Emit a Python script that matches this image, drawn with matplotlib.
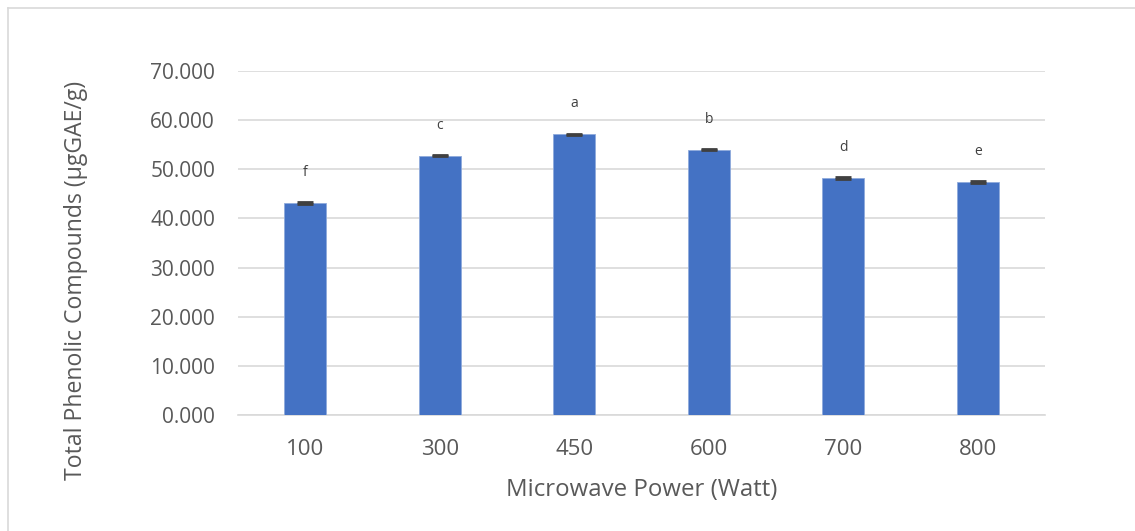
import matplotlib
matplotlib.use('Agg')
import matplotlib.pyplot as plt
from matplotlib.lines import Line2D

# data
power = ['100', '300', '450', '600', '700', '800']
tpc = [43.1, 52.8, 57.1, 54.0, 48.2, 47.4]
tpc_err = [0.15, 0.15, 0.15, 0.15, 0.15, 0.15]
letters = ['f', 'c', 'a', 'b', 'd', 'e']

plt.rcParams['font.family'] = ['Open Sans', 'DejaVu Sans']

fig = plt.figure(figsize=(11.35, 5.31), dpi=100)
ax = fig.add_axes([238 / 1135, 116 / 531, 807 / 1135, 344 / 531])

x = range(len(power))
ax.bar(x, tpc, width=0.31, color='#4472C4', edgecolor='#8FAADC', linewidth=0.6, zorder=3)
ax.errorbar(x, tpc, yerr=tpc_err, fmt='none', ecolor='#404040',
            elinewidth=1.2, capsize=6, capthick=2, zorder=4)

for i, (v, lab) in enumerate(zip(tpc, letters)):
    ax.text(i, v + 6.2, lab, ha='center', va='center', fontsize=10, color='#404040')

ax.set_xlim(-0.5, len(power) - 0.5)
ax.set_ylim(0, 70)
ax.set_yticks(range(0, 71, 10))
ax.set_yticklabels(['%.3f' % t for t in range(0, 71, 10)])
ax.set_xticks(list(x))
ax.set_xticklabels(power)

ax.grid(axis='y', color='#D9D9D9', linewidth=1.2, zorder=0)
for s in ['top', 'right', 'left']:
    ax.spines[s].set_visible(False)
ax.spines['bottom'].set_color('#D9D9D9')
ax.spines['bottom'].set_linewidth(1.2)
ax.tick_params(axis='both', length=0, colors='#595959')
ax.tick_params(axis='y', labelsize=15, pad=16.5)
ax.tick_params(axis='x', labelsize=16, pad=17)

ax.set_xlabel('Microwave Power (Watt)', fontsize=17.3, color='#595959')
ax.xaxis.set_label_coords(0.5, -0.183)
ax.set_ylabel('Total Phenolic Compounds (µgGAE/g)', fontsize=16.6, color='#595959')
ax.yaxis.set_label_coords(-0.186, 0.392)

# frame edges from the cropped source
fig.add_artist(Line2D([8 / 1135, 1], [1 - 8 / 531, 1 - 8 / 531], color='#D9D9D9', linewidth=1.2))
fig.add_artist(Line2D([8 / 1135, 8 / 1135], [0, 1 - 8 / 531], color='#D9D9D9', linewidth=1.2))

fig.savefig('out.png', dpi=100)
